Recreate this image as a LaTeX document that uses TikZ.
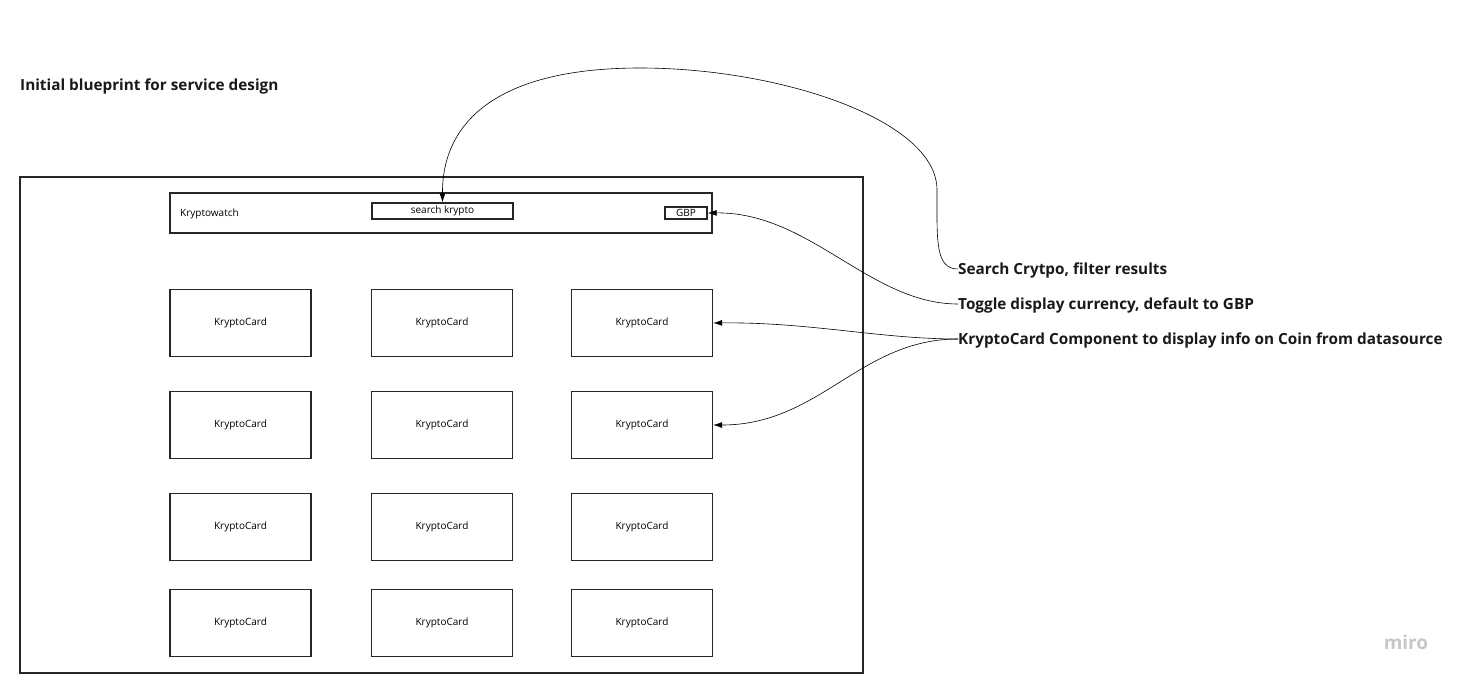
\documentclass[tikz,border=0pt]{standalone}
\usepackage{fontspec}
\setmainfont{Open Sans}
\usetikzlibrary{arrows.meta}
\begin{document}
\begin{tikzpicture}[x=1pt,y=-1pt,
  frame/.style={draw=black!85,line width=1.6pt},
  box/.style={draw=black!85,line width=1.4pt,inner sep=0pt},
  card/.style={box,minimum width=141pt,minimum height=67pt,font=\fontsize{10}{12}\selectfont},
  small/.style={font=\fontsize{10}{12}\selectfont},
  note/.style={anchor=west,inner sep=0pt,font=\fontsize{15.3}{18}\bfseries\selectfont,text=black!90},
  conn/.style={draw=black,line width=0.6pt,-{Latex[length=9pt,width=6pt]}}]
\useasboundingbox (0,0) rectangle (1464,683);
\node[note] (title) at (20,86.5) {Initial blueprint for service design};
\draw[frame] (20,177) rectangle (863,673);
\node[box,minimum width=542pt,minimum height=40pt] (header) at (441,213) {};
\node[small,anchor=west,inner sep=0pt] (logo) at (180,213.5) {Kryptowatch};
\node[box,minimum width=141pt,minimum height=16pt,small] (search) at (442.5,211) {search krypto};
\node[box,minimum width=42pt,minimum height=12pt,small] (gbp) at (686,213) {GBP};
\foreach \r/\y in {1/323,2/425,3/527,4/623}{
  \foreach \c/\x in {1/240.5,2/442,3/642}{
    \node[card] (c\r\c) at (\x,\y) {KryptoCard};
  }
}
\node[note] (l1) at (958,270.5) {Search Crytpo, filter results};
\node[note] (l2) at (958,305.5) {Toggle display currency, default to GBP};
\node[note] (l3) at (958,340.5) {KryptoCard Component to display info on Coin from datasource};
\node[anchor=center,font=\fontsize{19}{22}\bfseries\selectfont,text=black!22] (miro) at (1406,642) {miro};
\coordinate (k1) at (937,190);
\coordinate (k2) at (640,68);
\draw[conn] (958,269) .. controls (935,269) and (937,240) .. (k1)
  .. controls (937,120) and (780,68) .. (k2)
  .. controls (500,68) and (442,120) .. (search.north);
\draw[conn] (958,304) .. controls (870,304) and (810,212) .. (gbp.east);
\draw[conn] (958,339) .. controls (880,339) and (810,322) .. (c13.east);
\draw[conn] (958,339) .. controls (860,339) and (820,425) .. (c23.east);
\end{tikzpicture}
\end{document}
